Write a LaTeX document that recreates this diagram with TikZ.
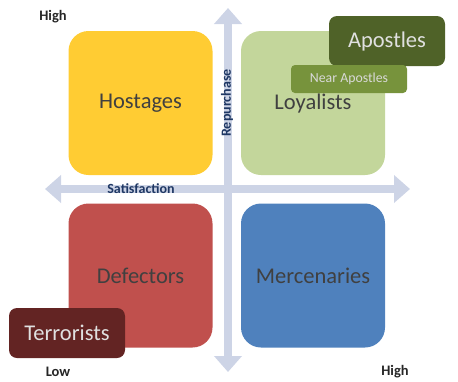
\documentclass[tikz,border=0pt]{standalone}
\usepackage{fontspec}
\setmainfont{Carlito}
\usetikzlibrary{arrows.meta}
\definecolor{axisblue}{RGB}{205,212,230}
\definecolor{labelblue}{RGB}{31,56,100}
\definecolor{hostfill}{RGB}{255,204,51}
\definecolor{loyalfill}{RGB}{195,214,155}
\definecolor{defectfill}{RGB}{192,80,77}
\definecolor{mercfill}{RGB}{79,129,189}
\definecolor{apostfill}{RGB}{79,98,40}
\definecolor{nearfill}{RGB}{119,147,60}
\definecolor{terrfill}{RGB}{99,36,35}
\definecolor{darktext}{RGB}{64,64,64}

\begin{document}
\begin{tikzpicture}[
  x=1pt, y=-1pt,
  quad/.style ={rounded corners=20pt, minimum width=144pt, minimum height=144pt,
                inner sep=0pt, text=darktext, font=\fontsize{22.5}{26}\selectfont},
  badge/.style={rounded corners=8pt, minimum width=116pt, minimum height=50pt,
                inner sep=0pt, text=white!88!black, font=\fontsize{22.5}{26}\selectfont},
  smallbadge/.style={rounded corners=4pt, minimum width=116pt, minimum height=28pt,
                inner sep=0pt, text=white!85!black, font=\fontsize{13.8}{16}\selectfont},
  axis/.style ={{Triangle[width=27pt,length=16pt]}-{Triangle[width=27pt,length=16pt]},
                line width=8pt, draw=axisblue},
  axlabel/.style={font=\fontsize{14}{16}\selectfont\bfseries, text=labelblue},
  endlabel/.style={font=\fontsize{14.5}{16}\selectfont\bfseries, text=black!85},
]
\useasboundingbox (0,0) rectangle (458,381);

% axes
\coordinate (top) at (228,8);
\coordinate (bottom) at (228,372);
\coordinate (left) at (45,189);
\coordinate (right) at (410,189);
\draw[axis] (bottom) -- (top);
\draw[axis] (left) -- (right);

% quadrants
\node[quad, fill=hostfill]   (hostages)    at (140.5,103)  {Hostages};
\node[quad, fill=loyalfill]  (loyalists)   at (313,103)    {Loyalists};
\node[quad, fill=defectfill] (defectors)   at (140.5,275.5){Defectors};
\node[quad, fill=mercfill]   (mercenaries) at (313,275.5)  {Mercenaries};

% extremes
\node[badge, fill=apostfill]      (apostles)  at (387,41)  {Apostles};
\node[smallbadge, fill=nearfill]  (nearapost) at (349,79)  {Near Apostles};
\node[badge, fill=terrfill]       (terrorists) at (67,333) {Terrorists};

% axis labels
\node[axlabel, rotate=90] (repurchase)   at (227,103) {Repurchase};
\node[axlabel]            (satisfaction) at (141,189) {Satisfaction};
\node[endlabel] (hightop)   at (53,17)  {High};
\node[endlabel] (low)       at (58,372) {Low};
\node[endlabel] (highright) at (395,372) {High};

\end{tikzpicture}
\end{document}
